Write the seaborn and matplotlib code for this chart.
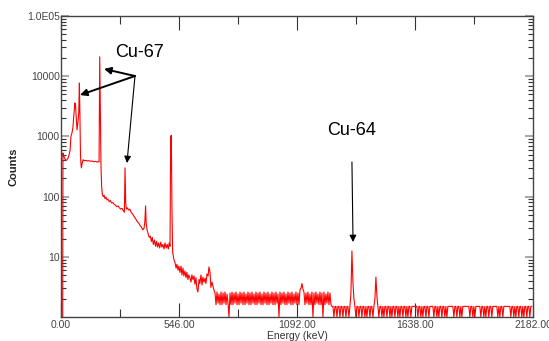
#!/usr/bin/env python3
import numpy as np
import pandas as pd
import matplotlib
matplotlib.use('Agg')
import matplotlib.pyplot as plt
import seaborn as sns
from matplotlib.ticker import FixedLocator, LogLocator, NullFormatter

sns.set_style('white')
plt.rcParams['font.family'] = ['Liberation Sans', 'DejaVu Sans']

# low-energy part of the spectrum (keV, counts)
low_kev = [0, 8, 9, 13, 18, 23, 28, 33, 37, 42, 46, 51, 55, 60, 64, 67, 71, 74, 78, 82,
           85, 87, 90, 92, 94, 98, 102, 108, 115, 122, 130, 138, 145, 152, 160, 166, 172, 176, 179, 182,
           185, 188, 191, 195, 199, 204, 208, 213, 218, 223, 228, 234, 240, 246, 252, 258, 264, 270, 276, 282,
           288, 293, 296, 299, 302, 307, 312, 318, 324, 330, 336, 342, 348, 354, 360, 366, 372, 378, 384, 388,
           391, 394, 398, 403, 408, 413, 418, 422, 427, 432, 437, 442, 446, 451, 456, 461, 466, 471, 476, 481,
           486, 491, 496, 500, 504, 507, 510, 513, 516, 520, 522, 527, 532, 536, 541, 545, 550, 555, 559, 564,
           568, 573, 578, 582, 587, 591, 596, 601, 605, 610, 615, 619, 624, 628, 633, 638, 642, 647, 652, 656,
           661, 666, 670, 675, 680, 684, 689, 693, 698, 703, 707]
low_counts = [1, 1, 530, 470, 420, 400, 410, 440, 490, 590, 1000, 1150, 1400, 2400, 3600, 3300, 1900, 1280, 1660, 2500,
              7700, 3000, 500, 360, 300, 360, 410, 395, 400, 390, 395, 385, 390, 380, 385, 375, 380, 380, 21000, 2500,
              300, 145, 110, 100, 105, 92, 98, 88, 90, 82, 86, 78, 80, 74, 72, 68, 70, 65, 62, 64,
              58, 55, 300, 80, 62, 65, 60, 62, 55, 52, 48, 44, 41, 38, 36, 33, 31, 28, 30, 40,
              70, 35, 28, 24, 21, 22, 18, 21, 16, 19, 15, 18, 14.5, 17, 14, 17.5, 14.5, 16, 13.5, 17,
              14, 16, 13.5, 17, 15, 1000, 1040, 60, 12, 10, 9, 8, 6.5, 7.5, 6, 7, 5.5, 7, 5, 6.5,
              4.8, 5.8, 4.5, 5.5, 4.2, 5, 4.5, 3.8, 5, 4.2, 4.8, 3.5, 4.5, 3, 2.6, 4.2, 3.6, 5, 3.4, 4.6,
              3.8, 4.4, 3.6, 5.2, 4.8, 6.8, 5.5, 3.1, 3.8, 3.2, 2.8]

# high-energy tail, one value per channel
tail_start_kev = 712
kev_per_channel = 4.62
tail_counts = [
    2.5, 1.6, 2.6, 1.7, 2.4, 1.6, 2.6, 1.6, 2.5, 1.7, 2.6, 1.6, 2.4, 1.7, 1.0, 2.5, 1.6, 2.6, 1.6, 2.5,
    1.7, 2.6, 1.6, 2.4, 1.6, 2.6, 1.7, 2.5, 1.6, 2.6, 1.6, 2.4, 1.7, 2.6, 1.6, 2.5, 1.6, 2.6, 1.7, 2.4,
    1.6, 2.6, 1.6, 2.5, 1.7, 2.6, 1.6, 2.4, 1.6, 2.6, 1.7, 2.5, 1.6, 2.6, 1.6, 2.4, 1.7, 2.6, 1.6, 2.5,
    1.6, 2.6, 1.7, 2.4, 1.0, 2.6, 1.6, 2.5, 1.7, 2.6, 1.6, 2.4, 1.6, 2.6, 1.7, 2.5, 1.6, 2.6, 1.6, 2.4,
    1.7, 2.6, 1.6, 2.5, 1.6, 2.8, 3.0, 3.6, 2.9, 2.6, 1.6, 2.5, 1.7, 2.6, 1.6, 2.4, 1.6, 2.6, 1.0, 2.5,
    1.6, 2.6, 1.7, 2.4, 1.6, 2.6, 1.6, 2.5, 1.0, 2.6, 1.6, 2.4, 1.7, 2.6, 1.6, 2.5, 1.6, 1.5, 1.5, 1.0,
    1.5, 1.5, 1.0, 1.5, 1.5, 1.0, 1.5, 1.5, 1.0, 1.5, 1.5, 1.0, 1.5, 1.5, 1.0, 1.5, 2.5, 12.5, 3.8, 2.0,
    1.5, 1.0, 1.5, 1.5, 1.0, 1.5, 1.5, 1.0, 1.5, 1.5, 1.0, 1.5, 1.0, 1.5, 1.5, 1.0, 1.5, 1.5, 1.0, 1.5,
    2.0, 4.6, 2.2, 1.5, 1.0, 1.5, 1.5, 1.0, 1.5, 1.0, 1.5, 1.5, 1.0, 1.5, 1.5, 1.0, 1.5, 1.0, 1.5, 1.5,
    1.0, 1.5, 1.5, 1.0, 1.5, 1.0, 1.5, 1.5, 1.0, 1.5, 1.5, 1.0, 1.5, 1.0, 1.5, 1.5, 1.0, 1.5, 1.5, 1.5,
    1.5, 1.5, 1.5, 1.0, 1.5, 1.5, 1.0, 1.5, 1.0, 1.5, 1.5, 1.0, 1.5, 1.5, 1.0, 1.5, 1.5, 1.5, 1.5, 1.0,
    1.5, 1.5, 1.0, 1.5, 1.0, 1.5, 1.5, 1.0, 1.5, 1.5, 1.0, 1.5, 1.0, 1.5, 1.5, 1.5, 1.5, 1.5, 1.5, 1.0,
    1.5, 1.5, 1.0, 1.5, 1.5, 1.0, 1.5, 1.0, 1.5, 1.5, 1.5, 1.5, 1.5, 1.5, 1.5, 1.0, 1.5, 1.5, 1.0, 1.5,
    1.0, 1.5, 1.5, 1.5, 1.5, 1.5, 1.0, 1.5, 1.5, 1.0, 1.5, 1.0, 1.5, 1.5, 1.0, 1.5, 1.5, 1.0, 1.5, 1.5,
    1.5, 1.5, 1.5, 1.0, 1.5, 1.0, 1.5, 1.5, 1.0, 1.5, 1.5, 1.5, 1.5, 1.5, 1.5, 1.5, 1.0, 1.5, 1.5, 1.0,
    1.5, 1.0, 1.5, 1.5, 1.0, 1.5, 1.5, 1.0, 1.5, 1.0, 1.5, 1.5, 1.0, 1.5, 1.5, 1.0, 1.5, 1.5,
]

x_ticks = [0, 546, 1092, 1638, 2182]
x_tick_labels = ['0.00', '546.00', '1092.00', '1638.00', '2182.00']
x_minor = [273, 819, 1365, 1911]
y_ticks = [10, 100, 1000, 10000, 100000]
y_tick_labels = ['10', '100', '1000', '10000', '1.0E05']

tail_kev = tail_start_kev + kev_per_channel * np.arange(len(tail_counts))
df = pd.DataFrame({'energy': np.concatenate([low_kev, tail_kev]),
                   'counts': np.concatenate([low_counts, tail_counts])})

fig = plt.figure(figsize=(5.49, 3.41), dpi=100)
ax = fig.add_axes([61 / 549, 24 / 341, 472 / 549, 301 / 341])

sns.lineplot(data=df, x='energy', y='counts', color='#ff0000', lw=0.8,
             estimator=None, sort=False, ax=ax)

ax.set_yscale('log')
ax.set_ylim(1, 1e5)
ax.set_xlim(0, 2182)

ax.set_xticks(x_ticks)
ax.set_xticklabels(x_tick_labels)
ax.xaxis.set_minor_locator(FixedLocator(x_minor))
ax.set_yticks(y_ticks)
ax.set_yticklabels(y_tick_labels)
ax.yaxis.set_minor_locator(LogLocator(base=10, subs=range(2, 10)))
ax.yaxis.set_minor_formatter(NullFormatter())

ax.tick_params(axis='x', which='major', direction='in', length=10, width=0.8, color='#333',
               top=True, bottom=True, labelsize=7.5, labelcolor='#444', pad=2)
ax.tick_params(axis='x', which='minor', direction='in', length=5.5, width=0.8, color='#333',
               top=True, bottom=True)
ax.tick_params(axis='y', which='major', direction='in', length=6, width=1.5, color='#aaa',
               left=True, right=True, labelsize=7.5, labelcolor='#444', pad=1)
ax.tick_params(axis='y', which='minor', direction='in', length=3.5, width=0.8, color='#333',
               left=True, right=True)

for s in ax.spines.values():
    s.set_color('#444')
    s.set_linewidth(1)

ax.set_xlabel('Energy (keV)', fontsize=7.5, color='#333', labelpad=1)
ax.set_ylabel('Counts', fontsize=8, fontweight='bold', color='#222', labelpad=6)

arrow = dict(arrowstyle='-|>', color='black', lw=1.4, mutation_scale=10, shrinkA=0, shrinkB=0)
thin_arrow = dict(arrowstyle='-|>', color='black', lw=0.8, mutation_scale=10, shrinkA=0, shrinkB=0)

ax.text(365, 25000, 'Cu-67', ha='center', va='center', fontsize=13, color='black')
ax.annotate('', xy=(199, 13200), xytext=(342, 10070), arrowprops=arrow)
ax.annotate('', xy=(88, 4870), xytext=(342, 10070), arrowprops=arrow)
ax.annotate('', xy=(305, 361), xytext=(342, 10070), arrowprops=thin_arrow)

ax.text(1345, 1230, 'Cu-64', ha='center', va='center', fontsize=13, color='black')
ax.annotate('', xy=(1350, 17.6), xytext=(1345, 376), arrowprops=thin_arrow)

fig.savefig('out.png', dpi=100)
